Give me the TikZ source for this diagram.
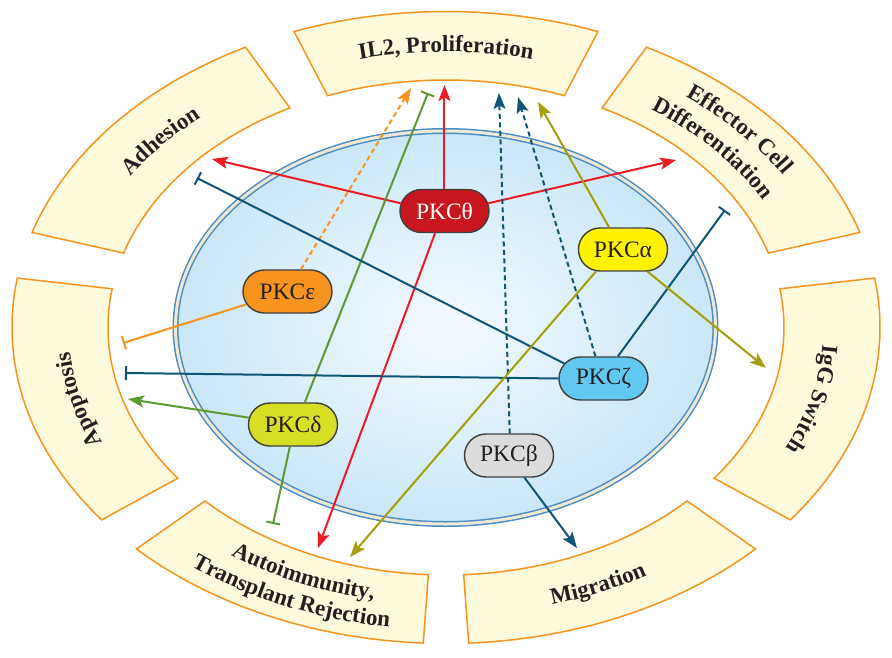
\documentclass[tikz,border=0pt]{standalone}
\usepackage{fontspec}
\setmainfont{Liberation Serif}
\usetikzlibrary{arrows.meta,shapes.misc,decorations.text}
\definecolor{segfill}{HTML}{FFFADC}
\definecolor{segline}{HTML}{F7931E}
\definecolor{cellin}{HTML}{F4FAFE}
\definecolor{cellout}{HTML}{CAE7F8}
\definecolor{cellblue}{HTML}{4A8CC8}
\definecolor{cellcream}{HTML}{EFE9D2}
\definecolor{cred}{HTML}{ED1C24}
\definecolor{corange}{HTML}{F7941D}
\definecolor{cgreen}{HTML}{5E9A32}
\definecolor{cblue}{HTML}{0E5677}
\definecolor{colive}{HTML}{A39E0A}
\definecolor{nth}{HTML}{C8161E}
\definecolor{nep}{HTML}{F7941D}
\definecolor{nal}{HTML}{FFF200}
\definecolor{nze}{HTML}{62C8F2}
\definecolor{nde}{HTML}{D6DE26}
\definecolor{nbe}{HTML}{DCDCDC}
\definecolor{txt}{HTML}{231F20}
\newcommand{\segfont}{\fontsize{23}{27}\selectfont\bfseries}
\newcommand{\ringseg}[2]{%
  \filldraw[ringseg] (#1:434pt and 316pt) arc[start angle=#1,end angle=#2,x radius=434pt,y radius=316pt]
    -- (#2:338pt and 247.5pt) arc[start angle=#2,end angle=#1,x radius=338pt,y radius=247.5pt] -- cycle;}
\newcommand{\ringlabel}[5]{%
  \path[decorate,decoration={text along path,text align=center,text color=txt,text={|\segfont|#5}}]
    (#1:#3pt and #4pt) arc[start angle=#1,end angle=#2,x radius=#3pt,y radius=#4pt];}
\tikzset{
  ringseg/.style={fill=segfill,draw=segline,line width=1.5pt,line join=miter},
  pkc/.style={rounded rectangle,draw=black!75,line width=1.4pt,minimum width=89pt,minimum height=43pt,inner sep=0pt,font=\fontsize{23.5}{23.5}\selectfont,text=txt},
  con/.style={line width=2pt},
  act/.style={con,-{Stealth[length=16pt,width=12pt,inset=3.5pt]}},
  inh/.style={con,-{Bar[width=14pt,line width=2pt]}},
  dsh/.style={dash pattern=on 5pt off 3.5pt},
}
\begin{document}
\begin{tikzpicture}[x=1pt,y=1pt]
\useasboundingbox (-446,-329.5) rectangle (446,327.5);
\fill[white] (-446,-329.5) rectangle (446,327.5);
% outer ring segments
\ringseg{69.5}{110.5}
\ringseg{17.5}{62.5}
\ringseg{117.5}{162.5}
\ringseg{-37.5}{9}
\ringseg{171}{217.5}
\ringseg{273}{315.5}
\ringseg{224.5}{267}
% labels
\ringlabel{115}{65}{377.4}{275.6}{IL2, Proliferation}
\ringlabel{165}{115}{377.4}{275.6}{Adhesion}
\ringlabel{66}{16}{396.6}{289.3}{Effector Cell}
\ringlabel{66}{16}{362}{264.6}{Differentiation}
\ringlabel{11}{-39}{377.4}{275.6}{IgG Switch}
\ringlabel{219}{169}{377.4}{275.6}{Apoptosis}
\ringlabel{269}{319}{394.6}{287.9}{Migration}
\ringlabel{221.5}{271.5}{379.3}{276.9}{Autoimmunity,}
\ringlabel{221.5}{271.5}{414.8}{302.3}{Transplant Rejection}
% cell
\shade[inner color=cellin,outer color=cellout] (-0.5,0) ellipse [x radius=270pt,y radius=196.5pt];
\draw[cellblue,line width=6pt] (-0.5,0) ellipse [x radius=270pt,y radius=196.5pt];
\draw[cellcream,line width=3pt] (-0.5,0) ellipse [x radius=270pt,y radius=196.5pt];
% nodes
\node[pkc,fill=nth,text=white] (th) at (-1.5,116.5) {PKCθ};
\node[pkc,fill=nep] (ep) at (-158.5,36) {PKCε};
\node[pkc,fill=nal] (al) at (177,78) {PKCα};
\node[pkc,fill=nze] (ze) at (157.5,-51) {PKCζ};
\node[pkc,fill=nde] (de) at (-153,-97) {PKCδ};
\node[pkc,fill=nbe] (be) at (63,-128) {PKCβ};
% free ends
\coordinate (t1) at (-1.5,242.5);
\coordinate (t2) at (-234,168.5);
\coordinate (t3) at (230,167.5);
\coordinate (t4) at (-128,-220.5);
\coordinate (t5) at (-35,239.5);
\coordinate (b6) at (-323,-15.5);
\coordinate (b7) at (-18,234.5);
\coordinate (t8) at (-318,-71.5);
\coordinate (b9) at (-173,-196.5);
\coordinate (b10) at (-249,149.5);
\coordinate (b11) at (-321,-45.5);
\coordinate (b12) at (279,117.5);
\coordinate (t13) at (72,230.5);
\coordinate (t14) at (53,234.5);
\coordinate (t15) at (131,-220.5);
\coordinate (t16) at (92,225.5);
\coordinate (t17) at (320,-40.5);
\coordinate (t18) at (-96,-229.5);
% connectors
\draw[act,cred] (th.north) -- (t1);
\draw[act,cred] (th.170) -- (t2);
\draw[act,cred] (th.10) -- (t3);
\draw[act,cred] (th.247) -- (t4);
\draw[act,corange,dsh] (ep) -- (t5);
\draw[inh,corange] (ep) -- (b6);
\draw[inh,cgreen] (de.62) -- (b7);
\draw[act,cgreen] (de) -- (t8);
\draw[inh,cgreen] (de.262) -- (b9);
\draw[inh,cblue] (ze.159) -- (b10);
\draw[inh,cblue] (ze.west) -- (b11);
\draw[inh,cblue] (ze.57) -- (b12);
\draw[act,cblue,dsh] (ze.110) -- (t13);
\draw[act,cblue,dsh] (be.88) -- (t14);
\draw[act,cblue] (be.305) -- (t15);
\draw[act,colive] (al.122) -- (t16);
\draw[act,colive] (al.318) -- (t17);
\draw[act,colive] (al.219) -- (t18);
\end{tikzpicture}
\end{document}
